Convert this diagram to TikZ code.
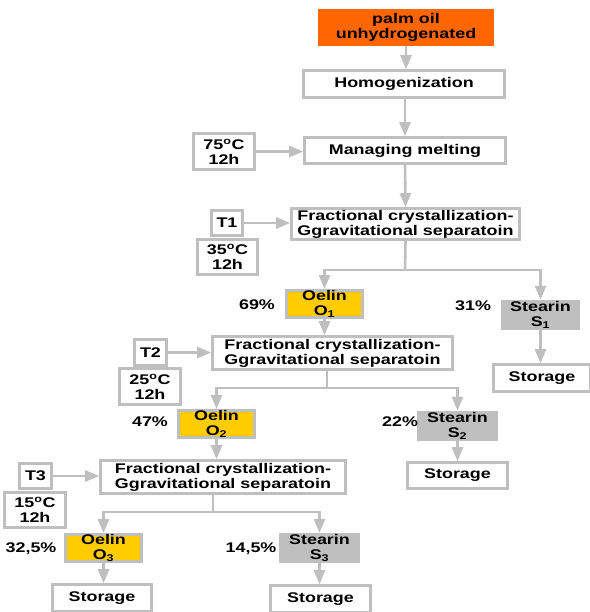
\documentclass[tikz,border=0pt]{standalone}
\usepackage{fontspec}
\newfontfamily\flowfont{Liberation Sans}[FakeStretch=1.28]
\usepackage{tikz}
\usetikzlibrary{arrows.meta}
\definecolor{lightline}{HTML}{BFBFBF}
\definecolor{palmorange}{HTML}{FF6600}
\definecolor{oelinyellow}{HTML}{FFCC00}

\begin{document}
\begin{tikzpicture}[x=1pt,y=-1pt,
  every node/.style={font=\flowfont\bfseries\fontsize{14}{15}\selectfont, align=center, inner sep=0pt},
  box/.style={draw=lightline, line width=2.6pt, fill=white},
  oelin/.style={box, fill=oelinyellow},
  stearin/.style={fill=lightline},
  flow/.style={draw=lightline, line width=2.6pt, -{Triangle[width=11pt,length=14pt]}},
  feed/.style={draw=lightline, line width=2.6pt}]
\useasboundingbox (0,0) rectangle (589,612);

\node[fill=palmorange, minimum width=176pt, minimum height=37pt] (palm) at (406,27.5) {palm oil\\unhydrogenated};
\node[box, minimum width=201pt, minimum height=27pt] (homog) at (404,84) {Homogenization};
\node[box, minimum width=201pt, minimum height=26pt] (melt) at (405,150.5) {Managing melting};
\node[box, minimum width=61pt, minimum height=36pt] (cond1) at (224,151.5) {75\textsuperscript{o}C\\12h};
%
\node[box, minimum width=228pt, minimum height=31pt] (fc1) at (405.5,224) {Fractional crystallization-\\Ggravitational separatoin};
\node[box, minimum width=31pt, minimum height=25pt] (t1) at (227,223) {T1};
\node[box, minimum width=60pt, minimum height=35pt] (cond2) at (227.5,257) {35\textsuperscript{o}C\\12h};
\node[oelin, minimum width=76pt, minimum height=27pt] (o1) at (324.5,304) {Oelin\\O\textsubscript{1}};
\node (p69) at (257,305) {69\%};
\node[stearin, minimum width=79pt, minimum height=30pt] (s1) at (540.5,315) {Stearin\\S\textsubscript{1}};
\node (p31) at (473,306) {31\%};
\node[box, minimum width=97pt, minimum height=27pt] (st1) at (542,378) {Storage};
%
\node[box, minimum width=240pt, minimum height=33pt] (fc2) at (332.5,353) {Fractional crystallization-\\Ggravitational separatoin};
\node[box, minimum width=32pt, minimum height=26pt] (t2) at (150.5,352.5) {T2};
\node[box, minimum width=61pt, minimum height=36pt] (cond3) at (150,386.5) {25\textsuperscript{o}C\\12h};
\node[oelin, minimum width=76pt, minimum height=27pt] (o2) at (216.5,424) {Oelin\\O\textsubscript{2}};
\node (p47) at (150,422) {47\%};
\node[stearin, minimum width=81pt, minimum height=30pt] (s2) at (457.5,426) {Stearin\\S\textsubscript{2}};
\node (p22) at (400,422) {22\%};
\node[box, minimum width=100pt, minimum height=26pt] (st2) at (457.5,475.5) {Storage};
%
\node[box, minimum width=245pt, minimum height=33pt] (fc3) at (223,477) {Fractional crystallization-\\Ggravitational separatoin};
\node[box, minimum width=32pt, minimum height=25pt] (t3) at (35.5,476) {T3};
\node[box, minimum width=61pt, minimum height=35pt] (cond4) at (35,510) {15\textsuperscript{o}C\\12h};
\node[oelin, minimum width=76pt, minimum height=27pt] (o3) at (103.5,548) {Oelin\\O\textsubscript{3}};
\node (p325) at (31,549) {32,5\%};
\node[stearin, minimum width=81pt, minimum height=30pt] (s3) at (319.5,548) {Stearin\\S\textsubscript{3}};
\node (p145) at (251,549) {14,5\%};
\node[box, minimum width=99pt, minimum height=27pt] (st3) at (102,598) {Storage};
\node[box, minimum width=100pt, minimum height=27pt] (st4) at (320.5,599) {Storage};

\coordinate (split1) at (405,270);
\coordinate (split2) at (327,388);
\coordinate (split3) at (213,512);

\draw[flow] (palm.south) -- (palm.south |- homog.north);
\draw[flow] (homog.south -| melt) -- (melt.north);
\draw[flow] (melt.south) -- (fc1.north);
\draw[flow] (cond1.east) -- (melt.west |- cond1.east);
\draw[flow] (t1.east) -- (fc1.west |- t1.east);
% 1
\draw[feed] (fc1.south) -- (split1);
\draw[flow] (split1) -| (o1.north);
\draw[flow] (split1) -| (s1.north);
\draw[flow] (s1.south) -- (st1.north -| s1.south);
\draw[flow] (o1.south) -- (o1.south |- fc2.north);
\draw[flow] (t2.east) -- (fc2.west |- t2.east);
% 2
\draw[feed] (split2 |- fc2.south) -- (split2);
\draw[flow] (split2) -| (o2.north);
\draw[flow] (split2) -| (s2.north);
\draw[flow] (s2.south) -- (st2.north);
\draw[flow] (o2.south) -- (o2.south |- fc3.north);
\draw[flow] (t3.east) -- (fc3.west |- t3.east);
% 3
\draw[feed] (split3 |- fc3.south) -- (split3);
\draw[flow] (split3) -| (o3.north);
\draw[flow] (split3) -| (s3.north);
\draw[flow] (o3.south) -- (o3.south |- st3.north);
\draw[flow] (s3.south) -- (s3.south |- st4.north);
\end{tikzpicture}
\end{document}
